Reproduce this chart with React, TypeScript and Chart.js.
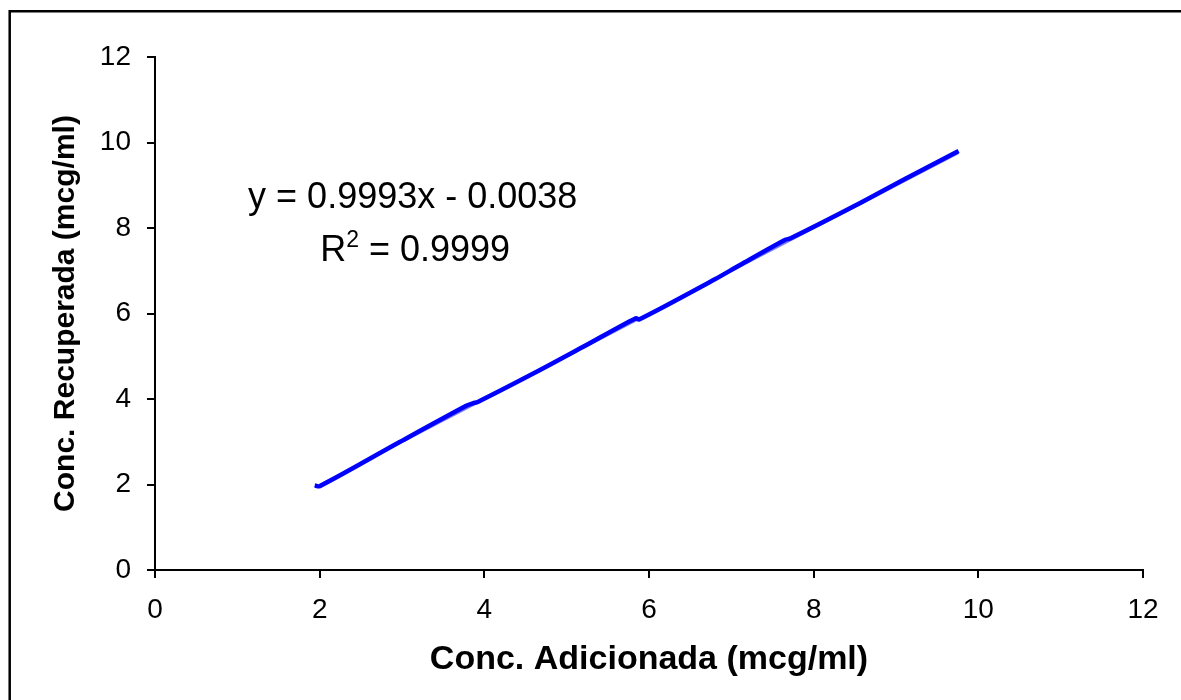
import React, { useEffect, useRef } from "react";
import { Chart, registerables } from "chart.js";

Chart.register(...registerables);

// Measured points (Conc. Adicionada vs Conc. Recuperada, mcg/ml)
const addedConc = [1.94, 2.0, 2.95, 3.78, 3.86, 3.92, 4.6, 5.2, 5.84, 5.88, 6.8, 7.1, 7.65, 7.72, 8.5, 9.12, 9.76];
const recoveredConc = [1.98, 1.96, 2.97, 3.84, 3.9, 3.93, 4.6, 5.22, 5.89, 5.86, 6.8, 7.13, 7.72, 7.76, 8.52, 9.16, 9.8];

// Linear trendline as reported on the chart
const trendSlope = 0.9993;
const trendIntercept = -0.0038;
const trendX = [1.94, 9.76];

const axisTicks = [0, 2, 4, 6, 8, 10, 12];
const xTitle = "Conc. Adicionada (mcg/ml)";
const yTitle = "Conc. Recuperada (mcg/ml)";
const equationText = "y = 0.9993x - 0.0038";
const r2Value = "0.9999";
const equationAnchor = { x: 3.13, y: 8.47 };
const r2Anchor = { x: 3.16, y: 7.23 };

const FONT = "Arial, 'Liberation Sans', Helvetica, sans-serif";

export default function App() {
  const ref = useRef<HTMLCanvasElement | null>(null);

  useEffect(() => {
    const canvas = ref.current;
    if (!canvas) return;

    const frame = {
      id: "frame",
      afterDraw(chart: any) {
        const { ctx } = chart;
        ctx.save();
        ctx.strokeStyle = "#000";
        ctx.lineWidth = 2.5;
        ctx.beginPath();
        ctx.moveTo(9.7, 720);
        ctx.lineTo(9.7, 11.3);
        ctx.lineTo(1200, 11.3);
        ctx.stroke();

        const xs = chart.scales.x;
        const ys = chart.scales.y;
        ctx.fillStyle = "#000";
        ctx.textBaseline = "alphabetic";
        ctx.font = `36px ${FONT}`;
        ctx.textAlign = "center";
        ctx.fillText(equationText, xs.getPixelForValue(equationAnchor.x), ys.getPixelForValue(equationAnchor.y));

        // R² line with superscript
        const main1 = "R";
        const sup = "2";
        const main2 = " = " + r2Value;
        ctx.font = `36px ${FONT}`;
        const w1 = ctx.measureText(main1).width;
        const w3 = ctx.measureText(main2).width;
        ctx.font = `23px ${FONT}`;
        const w2 = ctx.measureText(sup).width;
        const total = w1 + w2 + w3;
        const cx = xs.getPixelForValue(r2Anchor.x);
        const by = ys.getPixelForValue(r2Anchor.y);
        const sx = cx - total / 2;
        ctx.textAlign = "left";
        ctx.font = `36px ${FONT}`;
        ctx.fillText(main1, sx, by);
        ctx.font = `23px ${FONT}`;
        ctx.fillText(sup, sx + w1, by - 14);
        ctx.font = `36px ${FONT}`;
        ctx.fillText(main2, sx + w1 + w2, by);
        ctx.restore();
      },
    };

    const tickFont = { family: FONT, size: 28 };

    const chart = new Chart(canvas, {
      type: "scatter",
      data: {
        datasets: [
          {
            label: "Recuperada",
            data: addedConc.map((x, i) => ({ x, y: recoveredConc[i] })),
            showLine: true,
            borderColor: "#0000ff",
            backgroundColor: "#0000ff",
            borderWidth: 4.5,
            pointRadius: 0,
            tension: 0.3,
            order: 1,
          },
          {
            label: "Tendencia",
            data: trendX.map((x) => ({ x, y: trendSlope * x + trendIntercept })),
            showLine: true,
            borderColor: "rgba(90,90,255,0.8)",
            borderWidth: 2,
            pointRadius: 0,
            order: 2,
          },
        ],
      },
      options: {
        animation: false,
        responsive: false,
        maintainAspectRatio: false,
        layout: { padding: { left: 0, right: 38, top: 57, bottom: 0 } },
        plugins: { legend: { display: false }, tooltip: { enabled: false } },
        scales: {
          x: {
            type: "linear",
            min: 0,
            max: 12,
            afterBuildTicks: (s: any) => {
              s.ticks = axisTicks.map((v) => ({ value: v }));
            },
            afterFit: (s: any) => {
              s.height = 130;
            },
            grid: { drawOnChartArea: false, drawTicks: true, tickLength: 8, color: "#000", lineWidth: 2 },
            border: { display: true, color: "#000", width: 2 },
            ticks: { color: "#000", font: tickFont, padding: 15, maxRotation: 0 },
            title: {
              display: true,
              text: xTitle,
              color: "#000",
              font: { family: FONT, size: 34, weight: "bold" as const },
              padding: { top: 0, bottom: 19.6 },
            },
          },
          y: {
            type: "linear",
            min: 0,
            max: 12,
            afterBuildTicks: (s: any) => {
              s.ticks = axisTicks.map((v) => ({ value: v }));
            },
            afterFit: (s: any) => {
              s.width = 155;
            },
            grid: { drawOnChartArea: false, drawTicks: true, tickLength: 8, color: "#000", lineWidth: 2 },
            border: { display: true, color: "#000", width: 2 },
            ticks: { color: "#000", font: tickFont, padding: 16 },
            title: {
              display: true,
              text: yTitle,
              color: "#000",
              font: { family: FONT, size: 30, weight: "bold" as const },
              padding: { top: 48, bottom: 0 },
            },
          },
        },
      },
      plugins: [frame],
    });

    return () => chart.destroy();
  }, []);

  return (
    <div style={{ position: "fixed", left: 0, top: 0, width: 1181, height: 700, background: "#fff" }}>
      <canvas ref={ref} width={1181} height={700} style={{ display: "block", width: 1181, height: 700 }} />
    </div>
  );
}
